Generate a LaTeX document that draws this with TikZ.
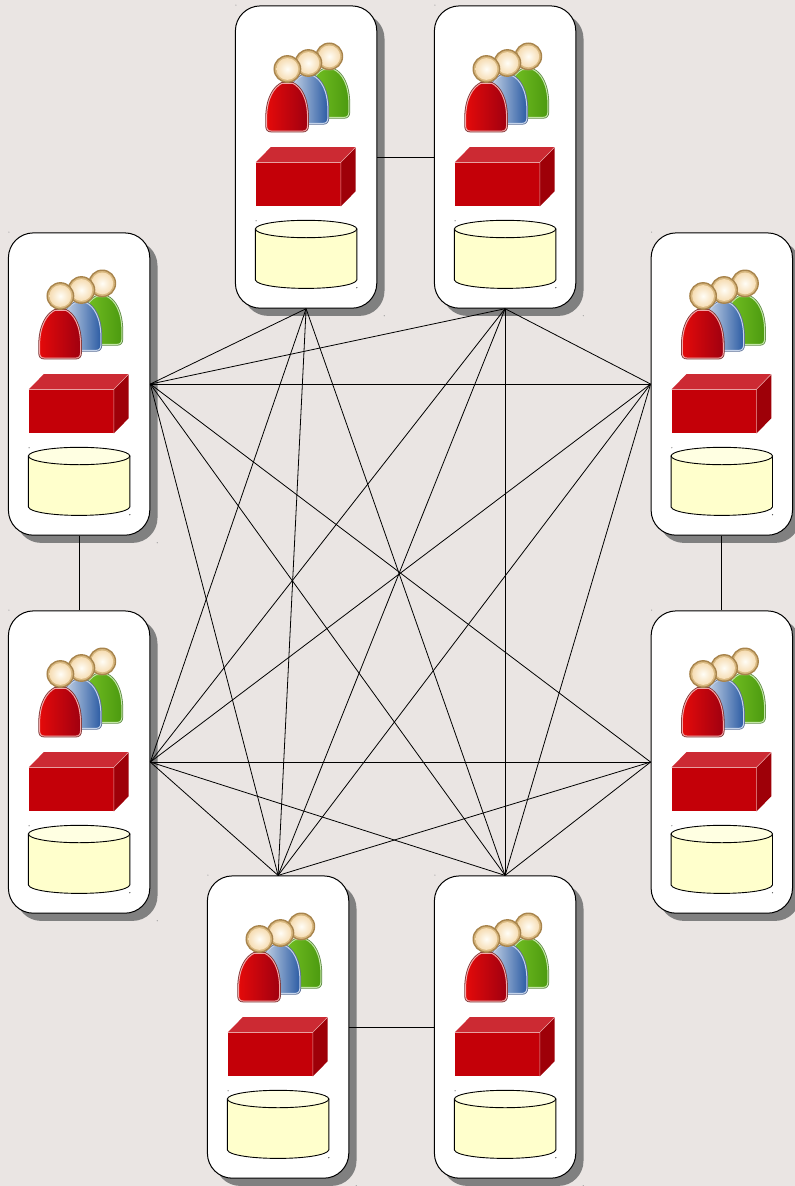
\documentclass[tikz,border=0pt]{standalone}
\usetikzlibrary{shadows}
\definecolor{pagebg}{HTML}{EAE5E3}
\definecolor{shadowgray}{HTML}{808080}
\definecolor{dotgray}{HTML}{9A9A9A}
\definecolor{cubefront}{HTML}{C40008}
\definecolor{cubetop}{HTML}{CC2A33}
\definecolor{cubeside}{HTML}{9E0008}
\definecolor{cubeedge}{HTML}{E8A0A0}
\definecolor{cylfill}{HTML}{FFFFCC}
\definecolor{cyltop}{HTML}{FFFFE2}
\definecolor{headedge}{HTML}{A8844C}
\definecolor{headglow}{HTML}{D8B880}
\definecolor{headskin}{HTML}{F6DDB4}
\definecolor{headcore}{HTML}{FFFDF6}
\definecolor{redborder}{HTML}{7C3030}
\definecolor{rededge}{HTML}{F2A8A8}
\definecolor{redleft}{HTML}{E40A0A}
\definecolor{redright}{HTML}{A00010}
\definecolor{blueborder}{HTML}{5A6E96}
\definecolor{blueedge}{HTML}{C6D4EA}
\definecolor{blueleft}{HTML}{D8E2EE}
\definecolor{blueright}{HTML}{2C5CA4}
\definecolor{greenborder}{HTML}{5E8A44}
\definecolor{greenedge}{HTML}{C4E6A8}
\definecolor{greenleft}{HTML}{78C424}
\definecolor{greenright}{HTML}{4C9A10}
\tikzset{
  x=1pt,y=-1pt,
  groupbox/.style={draw=black,line width=1pt,fill=white,rounded corners=25pt,
    minimum width=141.4pt,minimum height=302.3pt,inner sep=0pt,anchor=north west,
    drop shadow={shadow xshift=7.7pt,shadow yshift=-7.7pt,fill=shadowgray,opacity=1}},
  link/.style={draw=black,line width=0.8pt},
  tinydot/.style={fill=dotgray,draw=none},
  headglowring/.style={draw=headedge,line width=1.4pt,fill=headglow},
  headball/.style={draw=none,inner color=headcore,outer color=headskin},
  cubeface/.style={line width=0.5pt},
  cylbody/.style={draw=black,line width=0.9pt,fill=cylfill},
  cyllid/.style={draw=black,line width=0.9pt,fill=cyltop},
}
\newcommand{\bellpath}{(47,78) .. controls (39,82) and (32,93) .. (31.7,112) -- (31.7,120) .. controls (31.7,124) and (33,125.7) .. (37,125.7) -- (67.5,125.7) .. controls (71,125.7) and (72.7,124) .. (72.7,120) -- (72.7,112) .. controls (72.5,93) and (66,82) .. (58,78) -- cycle}
\newcommand{\bellfig}[6]{% dx dy, border, edge, left colour, right colour
  \begin{scope}[shift={(#1,#2)}]
    \draw[draw=#3,line width=2.6pt,line join=round] \bellpath;
    \draw[draw=#4,line width=1pt,left color=#5,right color=#6,line join=round] \bellpath;
  \end{scope}}
\newcommand{\headfig}[2]{%
  \draw[headglowring] (#1,#2) circle[radius=13.2];
  \shade[headball] (#1,#2) circle[radius=10.9];}
\begin{document}
\begin{tikzpicture}
\useasboundingbox (0,0) rectangle (795,1186);
\clip (0,0) rectangle (795,1186);
\fill[pagebg] (0,0) rectangle (795,1186);
\foreach \n/\px/\py in {t1/234.9/5.4,t2/433.9/5.4,l1/7.9/232.4,r1/650.6/232.4,l2/7.9/610.4,r2/650.6/610.4,b1/206.9/875.4,b2/433.9/875.4}{
  \node[groupbox] (\n) at (\px,\py) {};
  \begin{scope}[shift={(\px,\py)}]
    \bellfig{41.3}{-13.7}{greenborder}{greenedge}{greenleft}{greenright}
    \bellfig{20.3}{-7.7}{blueborder}{blueedge}{blueleft}{blueright}
    \bellfig{0}{0}{redborder}{rededge}{redleft}{redright}
    \headfig{94.4}{51}
    \headfig{73.5}{57.6}
    \headfig{52.5}{63.6}
    % red block
    \fill[cubefront] (21,156.9) rectangle (105.9,201);
    \fill[cubetop] (21,156.9) -- (35.9,141.7) -- (120.5,141.7) -- (105.9,156.9) -- cycle;
    \fill[cubeside] (105.9,156.9) -- (120.7,142.2) -- (120.7,185.9) -- (105.9,201) -- cycle;
    \draw[cubeedge,cubeface] (105.9,201) -- (105.9,156.9) -- (120.5,142);
    \draw[cubeedge,cubeface] (21,156.9) -- (105.9,156.9);
    % cylinder
    \draw[cylbody] (20.5,223.6) -- (20.5,274.6) .. controls (22,279.8) and (45,283) .. (71.2,283) .. controls (97,283) and (120,279.8) .. (121.9,274.6) -- (121.9,223.6) -- cycle;
    \draw[cyllid] (71.2,223.6) ellipse[x radius=50.7,y radius=8.7];
    % tiny marks
    \fill[tinydot] (1,-0.3) circle[radius=0.6];
    \fill[tinydot] (149.4,310.3) circle[radius=0.6];
    \fill[tinydot] (21.2,215.3) circle[radius=0.7];
    \fill[black!70] (121.9,282.3) circle[radius=0.7];
  \end{scope}
}
% neighbouring groups
\draw[link] (t1.east) -- (t2.west);
\draw[link] (l1.south) -- (l2.north);
\draw[link] (r1.south) -- (r2.north);
\draw[link] (b1.east) -- (b2.west);
% meshes
\draw[link] (t1.south) -- (l1.east);
\draw[link] (t1.south) -- (l2.east);
\draw[link] (t1.south) -- (b1.north);
\draw[link] (t1.south) -- (b2.north);
\draw[link] (t2.south) -- (l1.east);
\draw[link] (t2.south) -- (l2.east);
\draw[link] (t2.south) -- (b1.north);
\draw[link] (t2.south) -- (b2.north);
\draw[link] (t2.south) -- (r1.west);
\draw[link] (l1.east) -- (r1.west);
\draw[link] (l1.east) -- (r2.west);
\draw[link] (l1.east) -- (b1.north);
\draw[link] (l1.east) -- (b2.north);
\draw[link] (l2.east) -- (r1.west);
\draw[link] (l2.east) -- (r2.west);
\draw[link] (l2.east) -- (b1.north);
\draw[link] (l2.east) -- (b2.north);
\draw[link] (r1.west) -- (b1.north);
\draw[link] (r1.west) -- (b2.north);
\draw[link] (r2.west) -- (b1.north);
\draw[link] (r2.west) -- (b2.north);
\end{tikzpicture}
\end{document}
